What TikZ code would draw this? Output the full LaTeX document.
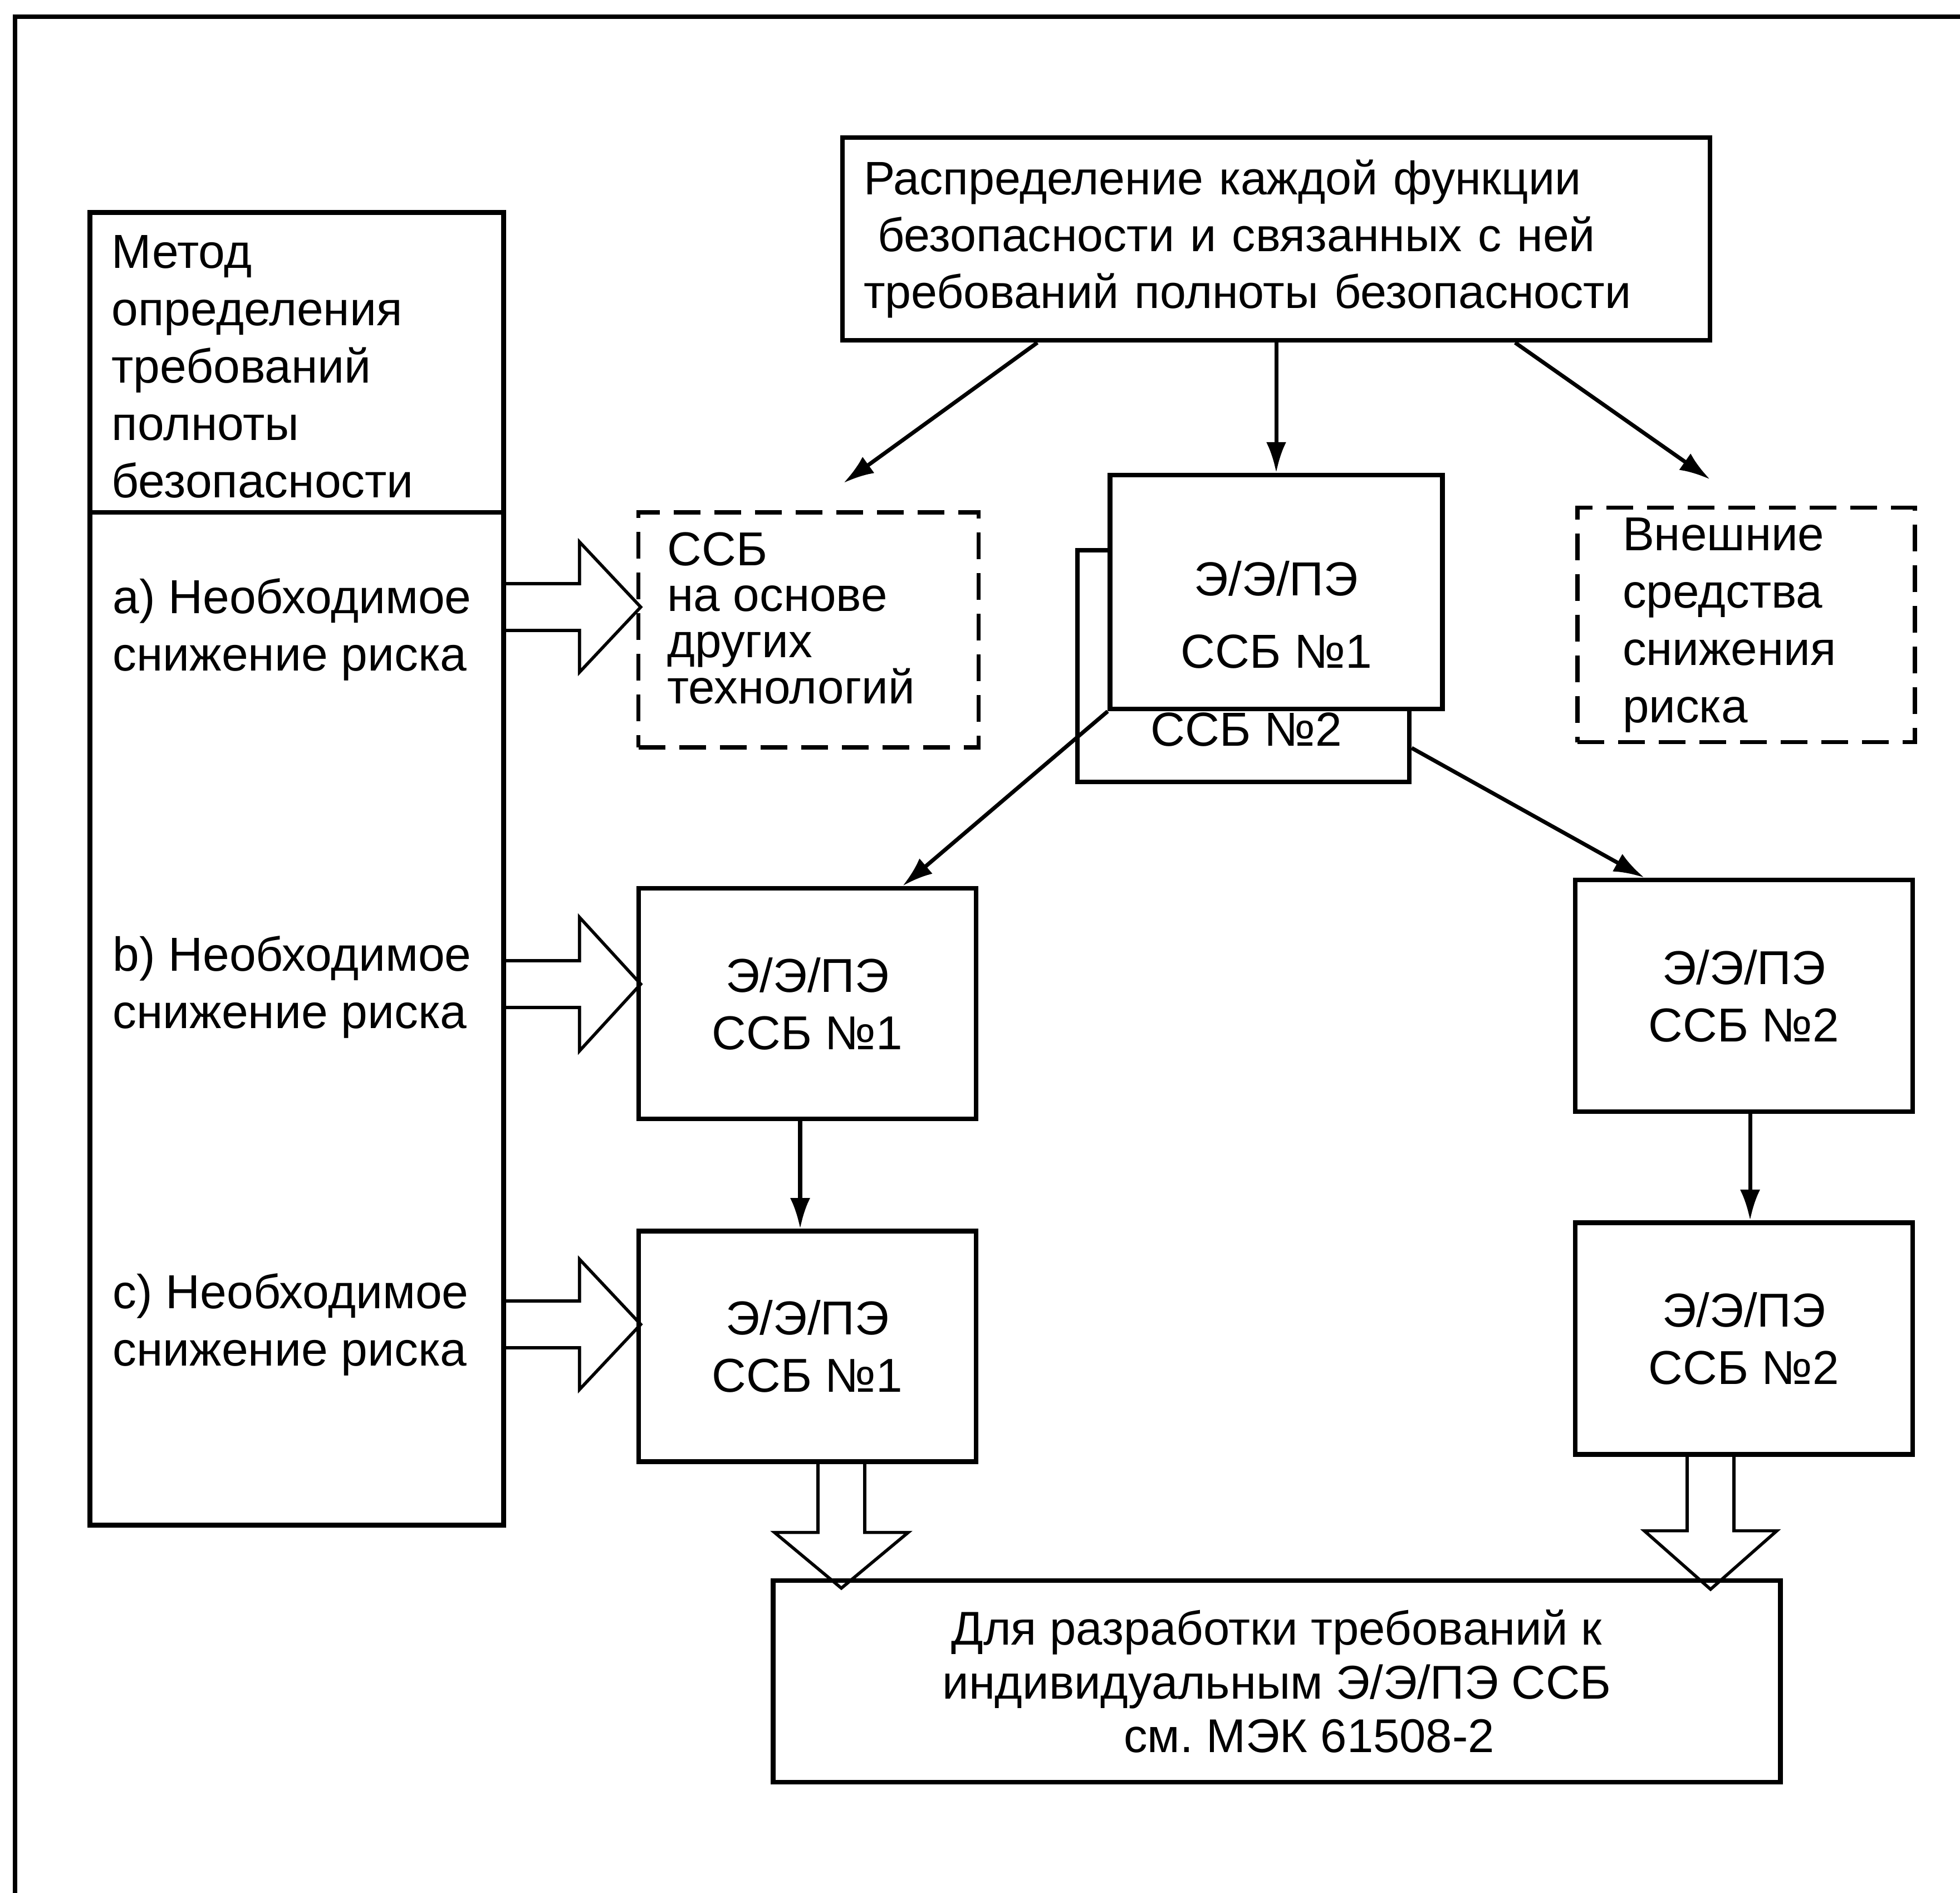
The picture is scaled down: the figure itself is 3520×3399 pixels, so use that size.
\documentclass[tikz,border=0pt]{standalone}
\usepackage{fontspec}
\setmainfont{Liberation Sans}
\usetikzlibrary{positioning}
\usetikzlibrary{arrows.meta}
\frenchspacing

\begin{document}
\begin{tikzpicture}[x=0.1mm, y=-0.1mm]
\tikzstyle{blk} = [draw, line width=2.4pt, minimum width=60.6mm, minimum height=41.4mm, inner sep=0pt, align=center, font=\fontsize{24.3}{29.3}\selectfont]
\tikzstyle{dbox} = [blk, line width=2.2pt, dash pattern=on 4.8mm off 2.5mm, align=left, inner sep=0pt]
\tikzstyle{txt} = [inner sep=0pt, align=left, font=\fontsize{24.4}{29.3}\selectfont]
\tikzstyle{line} = [draw, line width=2pt, -{Latex[length=5.5mm, width=3.6mm]}]
\tikzstyle{fat} = [draw, line width=1.6pt, line join=miter]

\useasboundingbox (0,0) rectangle (3520,3399);
\draw [line width=2.4pt] (27,3399) |- (3520,30);

\node [blk, minimum width=155.8mm, minimum height=36.4mm, align=left, text width=148.2mm, inner xsep=3.8mm, font=\fontsize{24}{29}\selectfont] (distr) at (2292,429) {Распределение каждой функции\\\hspace*{0.3em}безопасности и связанных с ней\\требований полноты безопасности};

\node [blk, minimum width=74.3mm, minimum height=235.7mm] (meth) at (533,1560) {};
\node [txt, anchor=west] (methtxt) at (200,658) {Метод\\определения\\требований\\полноты\\безопасности};
\node [txt, anchor=west] (reqa) at (202,1130) {а) Необходимое\\снижение риска};
\node [txt, anchor=west] (reqb) at (202,1772) {b) Необходимое\\снижение риска};
\node [txt, anchor=west] (reqc) at (202,2378) {c) Необходимое\\снижение риска};

\node [dbox, minimum width=61.1mm, minimum height=42.2mm] (ssbo) at (1452,1131) {};
\node [txt, anchor=west, font=\fontsize{24.3}{23.6}\selectfont] (ssbotxt) at (1198,1110) {ССБ\\на основе\\других\\технологий};
\node [dbox, minimum width=60.6mm, minimum height=42.1mm, text width=44.4mm, inner xsep=8.1mm] (ext) at (3136,1122) {Внешние\\средства\\снижения\\риска};

\node [blk, minimum width=59.6mm, minimum height=41.6mm] (back) at (2233,1196) {};
\node [txt, align=center] (backtxt) at (2238,1310) {ССБ №2};
\node [blk, fill=white, minimum width=59.7mm, minimum height=42mm] (front) at (2292,1063) {};
\node [txt, align=center, font=\fontsize{24.4}{37}\selectfont] (fronttxt) at (2292,1104) {Э/Э/ПЭ\\ССБ №1};

\node [blk] (eL1) at (1450,1802) {Э/Э/ПЭ\\ССБ №1};
\node [blk, below=19.3mm of eL1] (eL2) {Э/Э/ПЭ\\ССБ №1};
\node [blk, minimum height=41.6mm] (eR1) at (3132,1788) {Э/Э/ПЭ\\ССБ №2};
\node [blk, minimum height=41.6mm, below=19.1mm of eR1] (eR2) {Э/Э/ПЭ\\ССБ №2};

\node [blk, minimum width=180.9mm, minimum height=36.2mm, font=\fontsize{24.2}{27.4}\selectfont] (dev) at (2293,3019) {Для разработки требований к\\индивидуальным Э/Э/ПЭ ССБ\\\hspace*{11.6mm}см. МЭК 61508-2};

\draw [line width=2.4pt] (meth.west |- 0,920) -- (meth.east |- 0,920);

\path [line] ([xshift=-42.9mm]distr.south) -- ([xshift=6.3mm, yshift=4.9mm]ssbo.north);
\path [line] (distr) -- (front);
\path [line] ([xshift=42.9mm]distr.south) -- ([xshift=-6.5mm, yshift=4.7mm]ext.north);
\path [line] (front.south west) -- ([xshift=17.1mm]eL1.north);
\path [line] ([yshift=-14.7mm]back.east) -- ([xshift=-17.9mm]eR1.north);
\path [line] ([xshift=-1.3mm]eL1.south) -- ([xshift=-1.3mm]eL2.north);
\path [line] ([xshift=1.1mm]eR1.south) -- ([xshift=1.1mm]eR2.north);

\path [fat] ([yshift=47mm]meth.east) ++(0,-42) -- ++(132,0) -- ++(0,-75) -- ++(110,117) -- ++(-110,117) -- ++(0,-75) -- ++(-132,0);
\path [fat] ([yshift=-20.7mm]meth.east) ++(0,-42) -- ++(132,0) -- ++(0,-78) -- ++(110,120) -- ++(-110,120) -- ++(0,-78) -- ++(-132,0);
\path [fat] ([yshift=-81.8mm]meth.east) ++(0,-42) -- ++(132,0) -- ++(0,-75) -- ++(110,117) -- ++(-110,117) -- ++(0,-75) -- ++(-132,0);
\path [fat] ([xshift=6.1mm]eL2.south) ++(-42,0) -- ++(0,123) -- ++(-78,0) -- ++(120,100) -- ++(120,-100) -- ++(-78,0) -- ++(0,-123);
\path [fat] ([xshift=-6mm]eR2.south) ++(-42,0) -- ++(0,133) -- ++(-77,0) -- ++(119,105) -- ++(119,-105) -- ++(-77,0) -- ++(0,-133);
\end{tikzpicture}
\end{document}
